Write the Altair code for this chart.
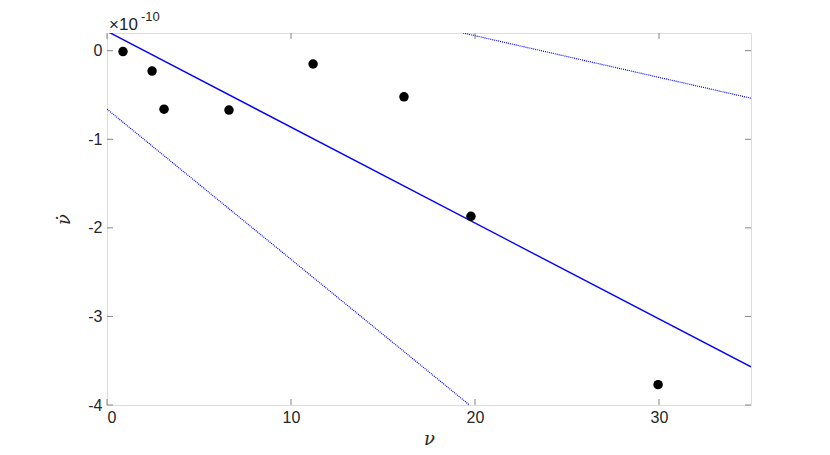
import altair as alt
import pandas as pd

# data (y in units of 1e-10)
nu = [0.87, 2.45, 3.1, 6.63, 11.2, 16.14, 19.78, 29.95]
nudot = [-0.01, -0.23, -0.66, -0.67, -0.15, -0.52, -1.87, -3.77]

fit_x = [0, 35]
fit_y = [0.22, -3.57]
low_x = [0, 19.7]
low_y = [-0.66, -4.0]
up_x = [19.35, 35]
up_y = [0.2, -0.536]

x_ticks = [0, 10, 20, 30]
y_ticks = [0, -1, -2, -3, -4]

W, H = 644, 372
XD = [0, 35]
YD = [-4, 0.2]
AX = "#858585"
TXT = "#262626"
FONT = "Liberation Sans"

pts = pd.DataFrame({"x": nu, "y": nudot})
fit = pd.DataFrame({"x": fit_x, "y": fit_y})
low = pd.DataFrame({"x": low_x, "y": low_y})
up = pd.DataFrame({"x": up_x, "y": up_y})
xt = pd.DataFrame({"x": x_ticks})
yt = pd.DataFrame({"y": y_ticks})

xs = alt.Scale(domain=XD, nice=False, zero=False)
ys = alt.Scale(domain=YD, nice=False, zero=False)

xaxis = alt.Axis(values=x_ticks, ticks=False, domain=False, grid=False, labelFontSize=16,
                 labelColor=TXT, labelFont=FONT, labelPadding=4, title="ν",
                 labelExpr="'' + datum.value",
                 titleFontSize=18, titleFont="DejaVu Serif", titleFontStyle="italic",
                 titleFontWeight="normal", titleColor=TXT, titlePadding=5)
yaxis = alt.Axis(values=y_ticks, ticks=False, domain=False, grid=False, labelFontSize=16,
                 labelColor=TXT, labelFont=FONT, labelPadding=5, title="ν̇",
                 labelExpr="'' + datum.value",
                 titleFontSize=18, titleFont="DejaVu Serif", titleFontStyle="italic",
                 titleFontWeight="normal", titleColor=TXT, titlePadding=14)

base_pts = alt.Chart(pts).mark_circle(size=90, color="black", opacity=1).encode(
    x=alt.X("x:Q", scale=xs, axis=xaxis),
    y=alt.Y("y:Q", scale=ys, axis=yaxis),
)

fit_line = alt.Chart(fit).mark_line(color="#0000ff", strokeWidth=1.4, clip=True).encode(
    x=alt.X("x:Q", scale=xs), y=alt.Y("y:Q", scale=ys))
low_line = alt.Chart(low).mark_line(color="#0000ff", strokeWidth=1.2, strokeDash=[1, 1], clip=True).encode(
    x=alt.X("x:Q", scale=xs), y=alt.Y("y:Q", scale=ys))
up_line = alt.Chart(up).mark_line(color="#0000ff", strokeWidth=1.2, strokeDash=[1, 1], clip=True).encode(
    x=alt.X("x:Q", scale=xs), y=alt.Y("y:Q", scale=ys))

tk = 6
xb = alt.Chart(xt).mark_rule(color=AX, strokeWidth=1).encode(
    x=alt.X("x:Q", scale=xs), y=alt.value(H), y2=alt.value(H - tk))
xtop = alt.Chart(xt).mark_rule(color=AX, strokeWidth=1).encode(
    x=alt.X("x:Q", scale=xs), y=alt.value(0), y2=alt.value(tk))
yl = alt.Chart(yt).mark_rule(color=AX, strokeWidth=1).encode(
    y=alt.Y("y:Q", scale=ys), x=alt.value(0), x2=alt.value(tk))
yr = alt.Chart(yt).mark_rule(color=AX, strokeWidth=1).encode(
    y=alt.Y("y:Q", scale=ys), x=alt.value(W), x2=alt.value(W - tk))

mult = alt.Chart(pd.DataFrame({"t": ["×10"]})).mark_text(
    align="left", baseline="alphabetic", fontSize=17, font=FONT, color=TXT).encode(
    x=alt.value(2), y=alt.value(-3), text="t:N")
expo = alt.Chart(pd.DataFrame({"t": ["-10"]})).mark_text(
    align="left", baseline="alphabetic", fontSize=13, font=FONT, color=TXT).encode(
    x=alt.value(34), y=alt.value(-12), text="t:N")

chart = alt.layer(low_line, up_line, fit_line, base_pts, xb, xtop, yl, yr, mult, expo).properties(
    width=W, height=H,
    autosize=alt.AutoSizeParams(type="none"),
    padding={"left": 99, "top": 25, "right": 62, "bottom": 50},
).configure_view(stroke=AX, strokeWidth=1.2).configure(background="white")

chart.save("out.html", embed_options={"renderer": "svg", "actions": False})
